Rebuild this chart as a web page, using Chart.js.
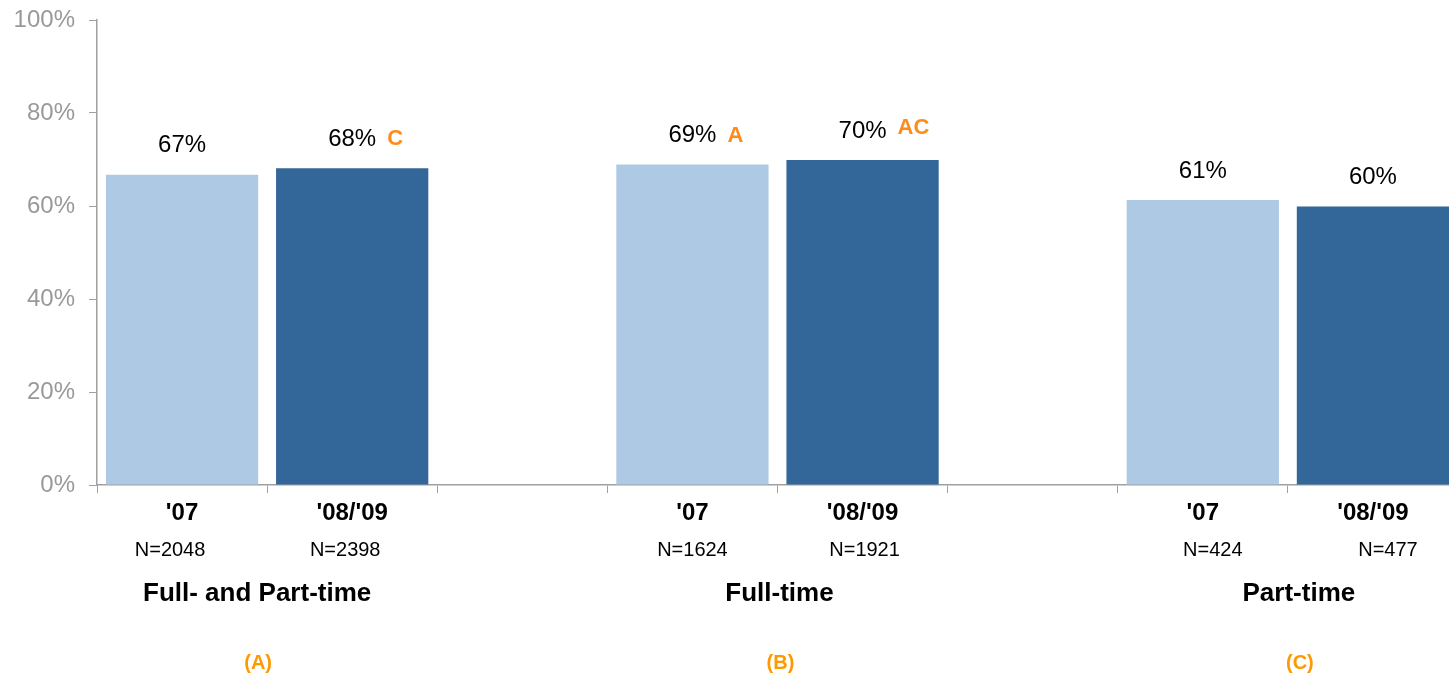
<!DOCTYPE html>
<html>
<head>
<meta charset="utf-8">
<script src="https://cdn.jsdelivr.net/npm/chart.js@4.4.1/dist/chart.umd.min.js"></script>
<style>
  html, body { margin: 0; padding: 0; background: #fff; overflow: hidden; }
  #wrap { position: relative; width: 1458px; height: 674px; }
</style>
</head>
<body>
<div id="wrap"><canvas id="c"></canvas></div>
<script>
// ---- data ----
const categories = ["'07", "'08/'09", "", "'07", "'08/'09", "", "'07", "'08/'09"];
const values = [66.7, 68.1, null, 68.9, 69.9, null, 61.3, 59.9];
const valueLabels = ["67%", "68%", "", "69%", "70%", "", "61%", "60%"];
const sigLetters = ["", "C", "", "A", "AC", "", "", ""];
const sampleSizes = ["N=2048", "N=2398", "", "N=1624", "N=1921", "", "N=424", "N=477"];
const groupNames = ["Full- and Part-time", "Full-time", "Part-time"];
const groupCodes = ["(A)", "(B)", "(C)"];
const groupSlots = [[0, 1], [3, 4], [6, 7]];
const yTicks = [0, 20, 40, 60, 80, 100];

// ---- style / layout ----
const LIGHT = '#aec9e4';
const DARK = '#336699';
const ORANGE = '#ff8c1a';
const ORANGE2 = '#ff9900';
const AXIS = '#a0a0a0';
const FONT = "'Liberation Sans', Arial, sans-serif";
const barColors = categories.map((c, i) => (i % 3 === 0 ? LIGHT : DARK));
const nShift = [-12, -7, 0, 0, 2, 0, 10, 15];
const groupShift = [-10, 2, 11];

const labelPlugin = {
  id: 'labels',
  afterDatasetsDraw(chart) {
    const ctx = chart.ctx;
    const meta = chart.getDatasetMeta(0);
    ctx.save();
    meta.data.forEach((bar, i) => {
      if (values[i] == null) return;
      const x = bar.x, y = bar.y - 29;
      ctx.font = "24px " + FONT;
      ctx.fillStyle = '#000';
      ctx.textAlign = 'center';
      ctx.textBaseline = 'middle';
      ctx.fillText(valueLabels[i], x, y);
      if (sigLetters[i]) {
        const w = ctx.measureText(valueLabels[i]).width;
        ctx.font = "bold 22px " + FONT;
        ctx.fillStyle = ORANGE;
        ctx.textAlign = 'left';
        ctx.fillText(sigLetters[i], x + w / 2 + 11, y - (sigLetters[i].length > 1 ? 3 : 0));
      }
    });
    const xs = chart.scales.x;
    ctx.font = "20px " + FONT;
    ctx.fillStyle = '#000';
    ctx.textAlign = 'center';
    ctx.textBaseline = 'middle';
    sampleSizes.forEach((s, i) => {
      if (!s) return;
      ctx.fillText(s, xs.getPixelForValue(i) + nShift[i], 550);
    });
    groupNames.forEach((g, k) => {
      const [a, b] = groupSlots[k];
      const cx = (xs.getPixelForValue(a) + xs.getPixelForValue(b)) / 2 + groupShift[k];
      ctx.font = "bold 26px " + FONT;
      ctx.fillStyle = '#000';
      ctx.fillText(g, cx, 594);
      ctx.font = "bold 20px " + FONT;
      ctx.fillStyle = ORANGE2;
      ctx.fillText(groupCodes[k], cx + 1, 663);
    });
    ctx.restore();
  }
};

new Chart(document.getElementById('c'), {
  type: 'bar',
  data: {
    labels: categories,
    datasets: [{
      data: values,
      backgroundColor: barColors,
      borderWidth: 0,
      barPercentage: 0.895,
      categoryPercentage: 1.0
    }]
  },
  options: {
    responsive: true,
    maintainAspectRatio: false,
    animation: false,
    devicePixelRatio: 1,
    layout: { padding: { top: 20, right: 0, left: 0, bottom: 0 } },
    plugins: { legend: { display: false }, tooltip: { enabled: false } },
    scales: {
      x: {
        type: 'category',
        grid: { offset: true, drawOnChartArea: false, drawTicks: true, tickLength: 8, color: AXIS },
        border: { color: AXIS, width: 1.5 },
        ticks: {
          autoSkip: false, maxRotation: 0, minRotation: 0,
          color: '#000', font: { family: FONT, size: 24, weight: 'bold' }, padding: 6
        },
        afterFit(scale) { scale.height = 189; scale.paddingLeft = 0; scale.paddingRight = 0; }
      },
      y: {
        min: 0, max: 100,
        afterBuildTicks(scale) { scale.ticks = yTicks.map(v => ({ value: v })); },
        grid: { drawOnChartArea: false, drawTicks: true, tickLength: 8, color: AXIS },
        border: { color: AXIS, width: 1.5 },
        ticks: {
          color: '#999999', font: { family: FONT, size: 24 }, padding: 14,
          callback: v => v + '%'
        },
        afterFit(scale) { scale.width = 97; scale.paddingTop = 0; scale.paddingBottom = 0; }
      }
    }
  },
  plugins: [labelPlugin]
});
</script>
</body>
</html>
